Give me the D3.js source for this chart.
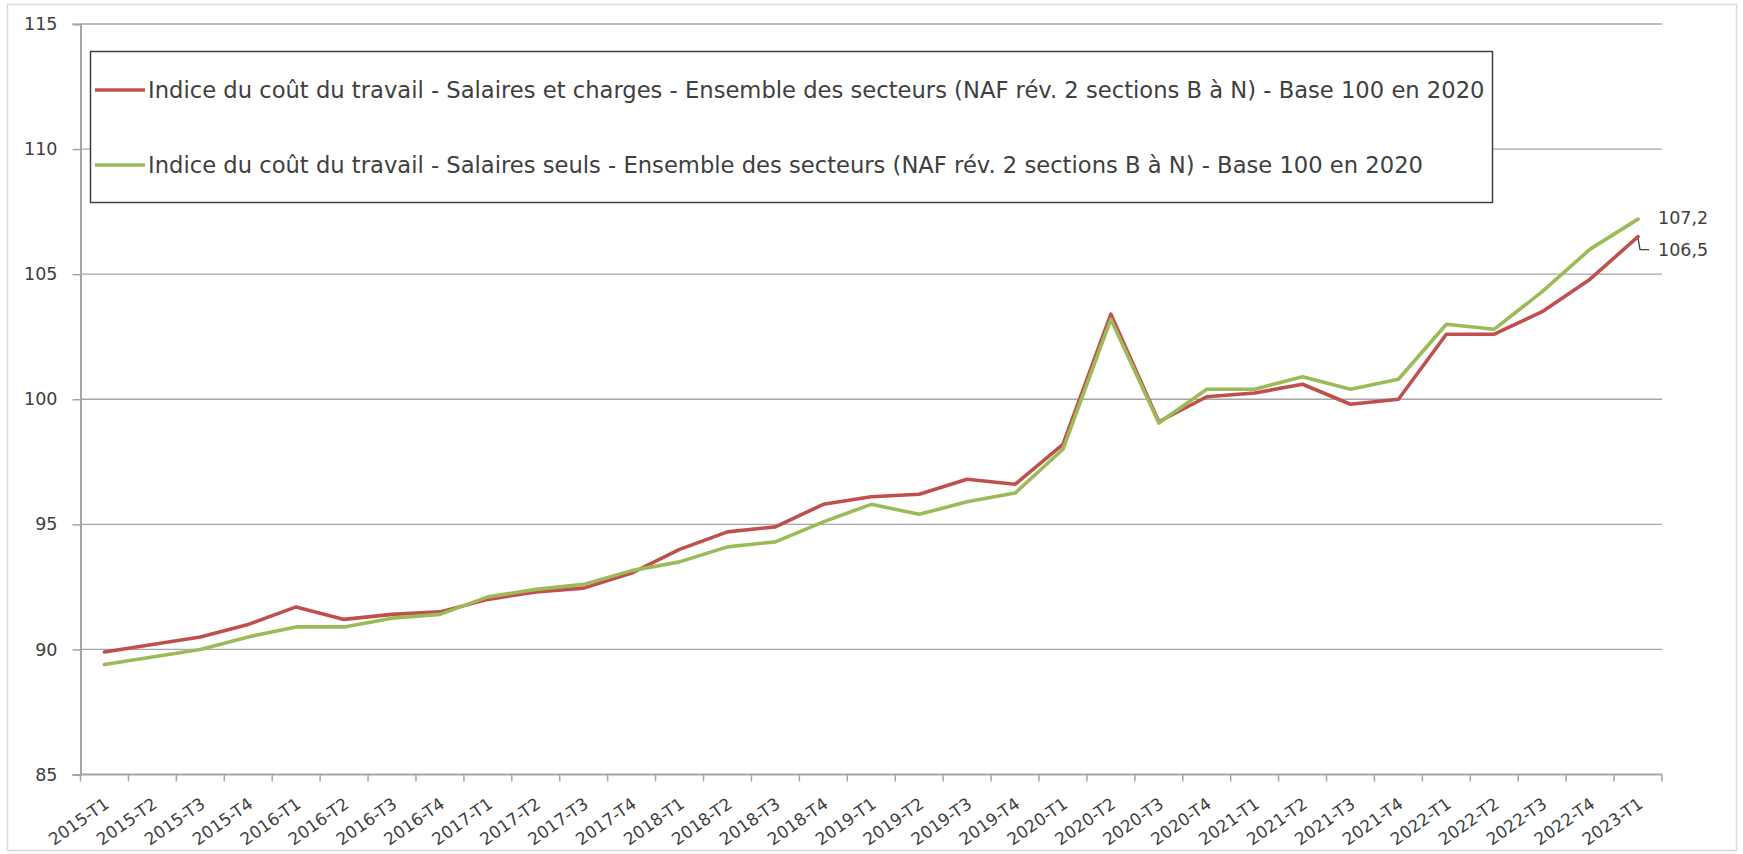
<!DOCTYPE html>
<html>
<head>
<meta charset="utf-8">
<script src="https://cdn.jsdelivr.net/npm/d3@7"></script>
<style>
  html, body { margin: 0; padding: 0; background: #ffffff; }
  svg { display: block; }
  text { font-family: "DejaVu Sans", "Open Sans", sans-serif; }
</style>
</head>
<body>
<svg id="chart" width="1743" height="854"></svg>
<script>
// ---------- DATA ----------
const categories = [
  "2015-T1","2015-T2","2015-T3","2015-T4",
  "2016-T1","2016-T2","2016-T3","2016-T4",
  "2017-T1","2017-T2","2017-T3","2017-T4",
  "2018-T1","2018-T2","2018-T3","2018-T4",
  "2019-T1","2019-T2","2019-T3","2019-T4",
  "2020-T1","2020-T2","2020-T3","2020-T4",
  "2021-T1","2021-T2","2021-T3","2021-T4",
  "2022-T1","2022-T2","2022-T3","2022-T4",
  "2023-T1"
];
const salairesEtCharges = [
  89.9, 90.2, 90.5, 91.0,
  91.7, 91.2, 91.4, 91.5,
  92.0, 92.3, 92.45, 93.05,
  94.0, 94.7, 94.9, 95.8,
  96.1, 96.2, 96.8, 96.6,
  98.2, 103.4, 99.1, 100.1,
  100.25, 100.6, 99.8, 100.0,
  102.6, 102.6, 103.5, 104.8,
  106.5
];
const salairesSeuls = [
  89.4, 89.7, 90.0, 90.5,
  90.9, 90.9, 91.25, 91.4,
  92.1, 92.4, 92.6, 93.15,
  93.5, 94.1, 94.3, 95.1,
  95.8, 95.4, 95.9, 96.25,
  98.0, 103.2, 99.05, 100.4,
  100.4, 100.9, 100.4, 100.8,
  103.0, 102.8, 104.3, 106.0,
  107.2
];
const yTicks = [85, 90, 95, 100, 105, 110, 115];
const seriesNames = [
  "Indice du coût du travail - Salaires et charges - Ensemble des secteurs (NAF rév. 2 sections B à N) - Base 100 en 2020",
  "Indice du coût du travail - Salaires seuls - Ensemble des secteurs (NAF rév. 2 sections B à N) - Base 100 en 2020"
];
const seriesColors = ["#c0504d", "#9bbb59"];
const lastLabels = ["106,5", "107,2"];

// ---------- LAYOUT ----------
const svg = d3.select("#chart");
const plot = { left: 80.5, right: 1662, top: 24, bottom: 774.5 };

const x = d3.scaleBand().domain(categories).range([plot.left, plot.right]).padding(0);
const y = d3.scaleLinear().domain([85, 115]).range([plot.bottom, plot.top]);
const cx = c => x(c) + x.bandwidth() / 2;

// outer frame
svg.append("rect")
  .attr("x", 7.5).attr("y", 4.5).attr("width", 1729).attr("height", 846)
  .attr("fill", "#ffffff").attr("stroke", "#d9d9d9").attr("stroke-width", 1.5);

// gridlines
svg.append("g").selectAll("line")
  .data(yTicks.filter(v => v !== 85))
  .join("line")
  .attr("x1", plot.left).attr("x2", plot.right)
  .attr("y1", d => y(d)).attr("y2", d => y(d))
  .attr("stroke", "#a6a6a6").attr("stroke-width", 1.3);

// y axis
const yAxis = svg.append("g")
  .attr("transform", `translate(${plot.left},0)`)
  .call(d3.axisLeft(y).tickValues(yTicks).tickSize(8).tickPadding(15).tickFormat(d3.format("d")));
yAxis.attr("font-family", null).attr("font-size", null);
yAxis.select(".domain").attr("stroke", "#a6a6a6").attr("stroke-width", 2);
yAxis.selectAll(".tick line").attr("stroke", "#a6a6a6").attr("stroke-width", 1.5);
yAxis.selectAll(".tick text")
  .attr("fill", "#404040")
  .style("font-size", "17.5px")
  .style("font-family", "'DejaVu Sans', sans-serif");

// x axis line
svg.append("line")
  .attr("x1", plot.left).attr("x2", plot.right)
  .attr("y1", y(85)).attr("y2", y(85))
  .attr("stroke", "#a6a6a6").attr("stroke-width", 2);

// x ticks at band boundaries
const boundaries = categories.map(c => x(c)).concat([x.range()[1]]);
svg.append("g").selectAll("line")
  .data(boundaries)
  .join("line")
  .attr("x1", d => d).attr("x2", d => d)
  .attr("y1", y(85)).attr("y2", y(85) + 7)
  .attr("stroke", "#a6a6a6").attr("stroke-width", 1.5);

// x labels
svg.append("g").selectAll("text")
  .data(categories)
  .join("text")
  .attr("transform", d => `translate(${cx(d) + 6},${y(85) + 32}) rotate(-35)`)
  .attr("text-anchor", "end")
  .attr("fill", "#404040")
  .style("font-size", "17px")
  .text(d => d);

// lines
const line = d3.line().x((d, i) => cx(categories[i])).y(d => y(d));
[salairesEtCharges, salairesSeuls].forEach((vals, k) => {
  svg.append("path")
    .datum(vals)
    .attr("d", line)
    .attr("fill", "none")
    .attr("stroke", seriesColors[k])
    .attr("stroke-width", 3.6)
    .attr("stroke-linejoin", "round")
    .attr("stroke-linecap", "round");
});

// end labels
const lastCat = categories[categories.length - 1];
const lastX = cx(lastCat);
const lastRed = salairesEtCharges[salairesEtCharges.length - 1];
const lastGreen = salairesSeuls[salairesSeuls.length - 1];

svg.append("text")
  .attr("x", lastX + 20).attr("y", y(lastGreen) - 1)
  .attr("dy", "0.35em")
  .attr("fill", "#404040").style("font-size", "17.5px")
  .text(lastLabels[1]);

svg.append("text")
  .attr("x", lastX + 20).attr("y", y(lastRed) + 13)
  .attr("dy", "0.35em")
  .attr("fill", "#404040").style("font-size", "17.5px")
  .text(lastLabels[0]);

svg.append("path")
  .attr("d", `M${lastX},${y(lastRed) + 2} L${lastX + 2},${y(lastRed) + 13} L${lastX + 11},${y(lastRed) + 13}`)
  .attr("fill", "none").attr("stroke", "#404040").attr("stroke-width", 1.3);

// legend
const legend = svg.append("g");
legend.append("rect")
  .attr("x", 90.5).attr("y", 51.5).attr("width", 1402).attr("height", 151)
  .attr("fill", "#ffffff").attr("stroke", "#404040").attr("stroke-width", 1.5);

const legendRows = [90, 165];
seriesNames.forEach((name, k) => {
  legend.append("line")
    .attr("x1", 95).attr("x2", 145)
    .attr("y1", legendRows[k]).attr("y2", legendRows[k])
    .attr("stroke", seriesColors[k]).attr("stroke-width", 3.6);
  legend.append("text")
    .attr("class", "legtext")
    .attr("x", 148).attr("y", legendRows[k])
    .attr("dy", "0.36em")
    .attr("fill", "#404040")
    .style("font-size", "18px")
    .text(name);
});

// fit legend font size so the first entry spans the same width as the reference
const first = legend.select(".legtext").node();
const w = first.getComputedTextLength();
const fs = 18 * 1337 / w;
legend.selectAll(".legtext").style("font-size", fs.toFixed(2) + "px");
</script>
</body>
</html>
